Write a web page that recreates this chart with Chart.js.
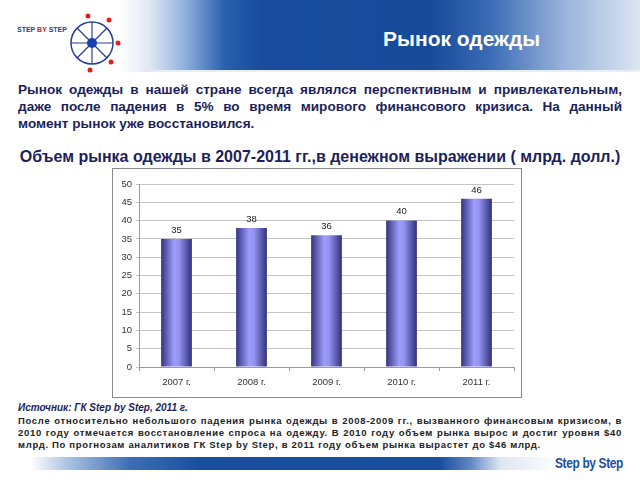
<!DOCTYPE html>
<html><head><meta charset="utf-8">
<script src="https://cdn.jsdelivr.net/npm/chart.js@4.4.0/dist/chart.umd.min.js"></script>
<style>
html,body{margin:0;padding:0;background:#fff;width:640px;height:480px;overflow:hidden;font-family:"Liberation Sans",Arial,sans-serif;}
#header{position:absolute;left:0;top:0;width:640px;height:72px;
 background:linear-gradient(90deg,#ffffff 0px,#ffffff 120px,#dfe7f3 150px,#8fb0dc 185px,#2a5fae 225px,#184c9c 260px,#174a99 430px,#3a6bb4 490px,#9ab4dc 565px,#dde6f2 640px);}
#header .line{position:absolute;left:150px;top:70px;width:490px;height:2px;background:#e8eef7;}
#title{position:absolute;left:383px;top:27px;color:#fff;font-weight:bold;font-size:21px;}
#logo{position:absolute;left:10px;top:5px;}
.j div{text-align:justify;text-align-last:justify;white-space:nowrap;}
.j div.last{text-align-last:left;}
#p1{position:absolute;left:18px;top:82px;width:604px;font-weight:bold;font-size:13.6px;line-height:16.8px;color:#1c1f5c;}
#ctitle{position:absolute;left:0;top:148px;width:640px;text-align:center;font-weight:bold;font-size:16px;color:#1c1f5c;}
#box{position:absolute;left:112px;top:168px;width:408px;height:228px;border:1px solid #8a8a8a;}
#src{position:absolute;left:18px;top:402px;font-style:italic;font-weight:bold;font-size:10px;color:#1c1f5c;}
#p2{position:absolute;left:18px;top:415px;width:604px;font-weight:bold;font-size:9.5px;letter-spacing:0.68px;line-height:12px;color:#222;}
#footer{position:absolute;left:0;top:457px;width:640px;height:13px;
 background:linear-gradient(90deg,#ffffff 30px,#a8bfe0 70px,#3d6db5 130px,#1a4f9f 200px,#1a4f9f 440px,#5e86c4 470px,#dde6f2 500px,#ffffff 560px);}
#sbs{position:absolute;left:555px;top:455px;font-weight:bold;font-size:14px;color:#1a4f9f;letter-spacing:-0.4px;transform:scaleX(0.85);transform-origin:left;}
</style></head>
<body>
<div id="header"><div class="line"></div></div>
<svg id="logo" width="130" height="70" viewBox="0 0 130 70">
 <text x="7" y="27" font-family="Liberation Sans,Arial" font-weight="bold" font-size="7" fill="#1a3f9a">STEP <tspan fill="#d02020">BY</tspan> STEP</text>
 <circle cx="82" cy="38" r="21" fill="none" stroke="#2a3f9a" stroke-width="1.5"/>
 <g stroke="#2a3f9a" stroke-width="1.2">
  <line x1="82" y1="17" x2="82" y2="59"/><line x1="61" y1="38" x2="103" y2="38"/>
  <line x1="67" y1="23" x2="97" y2="53"/><line x1="97" y1="23" x2="67" y2="53"/>
 </g>
 <circle cx="82" cy="38" r="5" fill="#1a3fb0"/>
 <g fill="#e02020"><circle cx="78" cy="11" r="2.5"/><circle cx="99" cy="15" r="2.5"/><circle cx="108" cy="38" r="2.5"/><circle cx="101" cy="57" r="2.5"/><circle cx="80" cy="65" r="2.5"/></g>
</svg>
<div id="title">Рынок одежды</div>
<div id="p1" class="j">
<div>Рынок одежды в нашей стране всегда являлся перспективным и привлекательным,</div>
<div>даже после падения в 5% во время мирового финансового кризиса. На данный</div>
<div class="last">момент рынок уже восстановился.</div>
</div>
<div id="ctitle">Объем рынка одежды в 2007-2011 гг.,в денежном выражении ( млрд. долл.)</div>
<div id="box"><canvas id="c" width="408" height="228"></canvas></div>
<div id="src">Источник: ГК Step by Step, 2011 г.</div>
<div id="p2" class="j">
<div>После относительно небольшого падения рынка одежды в 2008-2009 гг., вызванного финансовым кризисом, в</div>
<div>2010 году отмечается восстановление спроса на одежду. В 2010 году объем рынка вырос и достиг уровня $40</div>
<div class="last">млрд. По прогнозам аналитиков ГК Step by Step, в 2011 году объем рынка вырастет до $46 млрд.</div>
</div>
<div id="footer"></div>
<div id="sbs">Step by Step</div>
<script>
const categories = ["2007 г.", "2008 г.", "2009 г.", "2010 г.", "2011 г."];
const marketValues = [35, 38, 36, 40, 46];
const BAR_PCT = 0.41;

const valueLabels = {
  id: 'valueLabels',
  afterDatasetsDraw(chart) {
    const ctx = chart.ctx;
    const meta = chart.getDatasetMeta(0);
    ctx.save();
    ctx.font = '9.5px "Liberation Sans", Arial';
    ctx.fillStyle = '#222';
    ctx.textAlign = 'center';
    ctx.textBaseline = 'bottom';
    meta.data.forEach((bar, i) => {
      ctx.fillText(String(marketValues[i]), bar.x, bar.y - 4);
    });
    ctx.restore();
  }
};

function barGradient(context) {
  const chart = context.chart;
  const xs = chart.scales && chart.scales.x;
  if (!chart.chartArea || !xs || context.dataIndex === undefined) return '#8888ee';
  const cx = xs.getPixelForValue(context.dataIndex);
  const half = (xs.width / categories.length) * BAR_PCT / 2;
  if (!isFinite(cx) || !isFinite(half)) return '#8888ee';
  const g = chart.ctx.createLinearGradient(cx - half, 0, cx + half, 0);
  g.addColorStop(0, '#34347e');
  g.addColorStop(0.42, '#9c9cfc');
  g.addColorStop(0.58, '#9494f2');
  g.addColorStop(1, '#30307a');
  return g;
}

new Chart(document.getElementById('c'), {
  type: 'bar',
  data: {
    labels: categories,
    datasets: [{
      data: marketValues,
      backgroundColor: barGradient,
      borderWidth: 0,
      barPercentage: BAR_PCT,
      categoryPercentage: 1.0
    }]
  },
  options: {
    responsive: false,
    animation: false,
    events: [],
    layout: { padding: { top: 15, right: 7, left: 0, bottom: 0 } },
    plugins: { legend: { display: false }, tooltip: { enabled: false }, title: { display: false } },
    scales: {
      x: {
        offset: true,
        grid: { offset: true, drawOnChartArea: false, drawTicks: true, tickLength: 4, color: '#999' },
        border: { display: true, color: '#999' },
        ticks: { color: '#333', font: { size: 9.5, family: '"Liberation Sans", Arial' }, padding: 6, maxRotation: 0 },
        afterFit(scale) { scale.height = 30; }
      },
      y: {
        min: 0, max: 50,
        ticks: { stepSize: 5, color: '#333', font: { size: 9.5, family: '"Liberation Sans", Arial' }, padding: 4 },
        grid: { color: '#c4c4c4', tickLength: 3, drawTicks: true },
        border: { display: true, color: '#999' },
        afterFit(scale) { scale.width = 26; }
      }
    }
  },
  plugins: [valueLabels]
});
</script>
</body></html>
